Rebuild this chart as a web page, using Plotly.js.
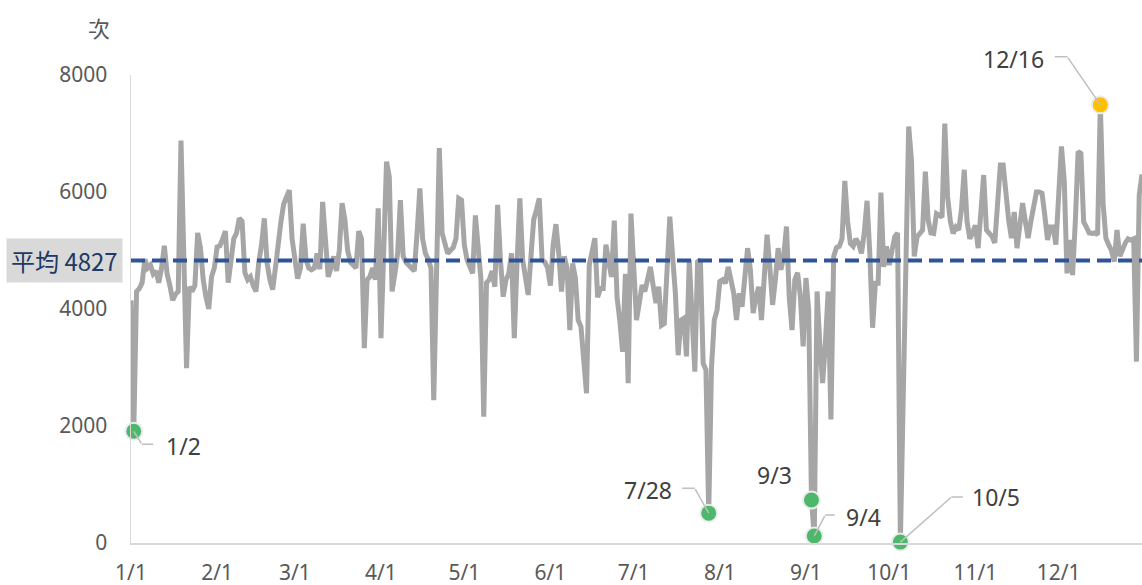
<!DOCTYPE html>
<html><head><meta charset="utf-8">
<script src="https://cdn.plot.ly/plotly-3.0.1.min.js"></script>
<style>html,body{margin:0;padding:0;background:#fff;} #chart{width:1142px;height:585px;}</style>
</head><body><div id="chart"></div>
<script>
const year = 2023;
const jan = [4150,1910,4300,4350,4450,4850,4700,4750,4600,4650,4450,4700,5080,4600,4400,4150,4250,4300,6880,4900,2990,4380,4300,4400,5300,5050,4500,4200,4000,4550,4700];
const feb = [5060,5080,5200,5330,4450,4900,5200,5300,5550,5500,4620,4500,4550,4400,4300,4800,5100,5550,4780,4500,4330,4700,5200,5500,5800,5900,6030,5200];
const mar = [4840,4520,4700,5460,4850,4700,4670,4700,4950,4680,5830,5100,4550,4700,4900,4650,5000,5810,5530,5000,4800,4750,4700,5330,5200,3330,4500,4550,4700,4500,5720];
const apr = [3500,5000,6520,6260,4300,4600,4950,5860,4900,4800,4750,4700,4650,5300,6060,5200,4950,4850,4700,2440,4800,6750,5300,5100,4950,5000,5050,5200,5890,5860];
const may = [5100,4840,4700,4610,5600,4900,4500,2160,4450,4500,4650,4380,5780,4850,4210,4500,4600,4950,3500,4800,5890,4850,4600,4240,4900,5530,5700,5890,4850,4800,4700];
const jun = [4400,5100,5450,4950,4300,4900,4700,3640,4780,4530,3810,3700,3200,2560,4750,5000,5210,4200,4350,4350,5100,4800,4550,5510,4200,3800,3270,4600,2730,5630];
const jul = [4600,3810,4100,4410,4300,4500,4720,4400,4100,4380,3720,3750,4600,5580,4900,4270,3210,3810,3840,3190,4840,3700,2930,4810,4840,3070,2960,510,3000,3810,3980];
const aug = [4470,4500,4440,4720,4500,4270,3810,4270,4040,4500,5040,4670,3930,4200,4380,3810,4500,5270,4720,4070,4500,5040,4670,4900,5410,4200,3640,4500,4620,4210,3360];
const sep = [4530,3980,735,120,4300,3400,2735,3410,4300,2110,4900,5050,5070,5200,6190,5500,5120,5070,5200,5120,4950,5300,5850,4950,3680,4440,4440,5990,4720,5070];
const oct = [4750,5000,5240,5300,15,2400,4750,7120,6540,4900,5230,5300,5350,6350,5520,5300,5290,5630,5600,5570,7170,5920,5500,5290,5400,5350,5700,6380,5500,5200,5300];
const nov = [5430,5040,5700,6290,5350,5300,5240,5130,5700,6460,6460,5900,5520,5210,5660,5040,5500,5810,5500,5210,5500,5810,6000,6000,5980,5600,5180,5400,5400,5100];
const dec = [5900,6780,6200,4610,5180,4580,5500,6690,6660,5490,5400,5300,5290,5300,5270,7490,5800,5210,5100,5000,4810,5350,4900,5050,5130,5200,5180,5200,3100,5950,6300];

const monthTickLabels = ["1/1","2/1","3/1","4/1","5/1","6/1","7/1","8/1","9/1","10/1","11/1","12/1"];
const yTickVals = [0,2000,4000,6000,8000];
const average = 4827;
const averageLabel = "平均 4827";
const unitLabel = "次";

const highlightDates = ["2023-01-02","2023-07-28","2023-09-03","2023-09-04","2023-10-05","2023-12-16"];
const highlightLabels = ["1/2","7/28","9/3","9/4","10/5","12/16"];
const highlightColors = ["#4DB86B","#4DB86B","#4DB86B","#4DB86B","#4DB86B","#FFC000"];

// label placement styles (pixel offsets from the point, y up positive)
const labelStyles = [
  {xshift:30, yshift:-15, xanchor:'left', elbow:[8,-13], end:[20,-13]},
  {xshift:-35, yshift:23, xanchor:'right', elbow:[-14,25], end:[-27,25]},
  {xshift:-37, yshift:25, xanchor:'center', elbow:null, end:null},
  {xshift:30, yshift:19, xanchor:'left', elbow:[11,21], end:[21,21]},
  {xshift:70, yshift:45, xanchor:'left', elbow:[51,45], end:[63,45]},
  {xshift:-54, yshift:46, xanchor:'right', elbow:[-33,48], end:[-46,48]}
];

const values = [].concat(jan,feb,mar,apr,may,jun,jul,aug,sep,oct,nov,dec);
const dates = values.map((v,i)=>new Date(Date.UTC(year,0,1+i)).toISOString().slice(0,10));
const tickVals = monthTickLabels.map((t,i)=>`${year}-${String(i+1).padStart(2,'0')}-01`);
const hlValues = highlightDates.map(d=>values[dates.indexOf(d)]);

const font = 'Noto Sans, "Noto Sans CJK TC", sans-serif';
const cjkFont = '"Noto Sans CJK TC", "Noto Sans", sans-serif';

const traces = [
  {x:dates, y:values, type:'scatter', mode:'lines', line:{color:'#A6A6A6', width:5}, hoverinfo:'skip'},
  {x:[dates[0], dates[dates.length-1]], y:[average, average], type:'scatter', mode:'lines',
   line:{color:'#2F5597', width:4, dash:'14px,7px'}, hoverinfo:'skip', cliponaxis:false},
  {x:highlightDates, y:hlValues, type:'scatter', mode:'markers', cliponaxis:false,
   marker:{size:17, color:highlightColors, line:{color:'#ECECEC', width:2}}, hoverinfo:'skip'}
];

const leaderStyle = {showarrow:true, arrowhead:0, arrowwidth:1.5, arrowcolor:'#BFBFBF',
  text:' ', font:{size:1}, borderpad:0, standoff:0, startstandoff:0, axref:'pixel', ayref:'pixel'};

const annotations = [];
highlightDates.forEach((d,i)=>{
  const st = labelStyles[i];
  if (st.elbow) {
    annotations.push(Object.assign({}, leaderStyle, {x:d, y:hlValues[i], xref:'x', yref:'y',
      ax:st.elbow[0], ay:-st.elbow[1]}));
    annotations.push(Object.assign({}, leaderStyle, {x:d, y:hlValues[i], xref:'x', yref:'y',
      xshift:st.elbow[0], yshift:st.elbow[1], ax:st.end[0]-st.elbow[0], ay:-(st.end[1]-st.elbow[1])}));
  }
  annotations.push({
    x:d, y:hlValues[i], xref:'x', yref:'y', text:highlightLabels[i], showarrow:false,
    xanchor:st.xanchor, yanchor:'middle', xshift:st.xshift, yshift:st.yshift,
    font:{family:font, size:23, color:'#404040'}
  });
});
annotations.push({
  x:-0.008, xref:'paper', y:average, yref:'y', text:averageLabel, showarrow:false,
  xanchor:'right', yanchor:'middle', bgcolor:'#D9D9D9', borderpad:4,
  font:{family:cjkFont, size:24, color:'#1F3864'}
});
annotations.push({
  x:(99-131)/1011, y:1+(75-27)/468, xref:'paper', yref:'paper', text:unitLabel, showarrow:false,
  xanchor:'center', yanchor:'middle', font:{family:cjkFont, size:22, color:'#595959'}
});

const layout = {
  width:1142, height:585,
  margin:{l:131, r:0, t:75, b:42},
  paper_bgcolor:'#fff', plot_bgcolor:'#fff', showlegend:false,
  xaxis:{type:'date', range:[dates[0], dates[dates.length-1]], tickvals:tickVals, ticktext:monthTickLabels,
    showline:true, linecolor:'#D9D9D9', linewidth:1.5, showgrid:false, zeroline:false, ticks:'',
    tickfont:{family:font, size:21, color:'#595959'}, ticklabelstandoff:10},
  yaxis:{range:[0,8000], tickvals:yTickVals, ticktext:yTickVals.map(String),
    showline:true, linecolor:'#D9D9D9', linewidth:1.5, showgrid:false, zeroline:false, ticks:'',
    tickfont:{family:font, size:21, color:'#595959'}, ticklabelstandoff:18},
  annotations:annotations
};
Plotly.newPlot('chart', traces, layout, {displayModeBar:false, staticPlot:true});
</script></body></html>
